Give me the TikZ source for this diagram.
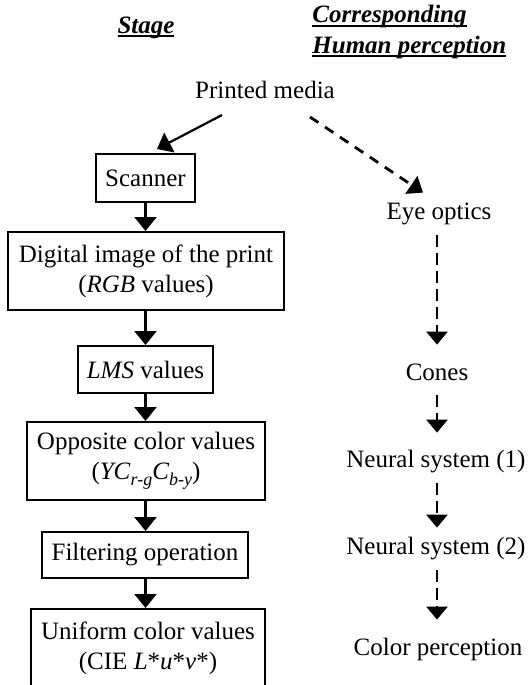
\documentclass[tikz,border=0pt]{standalone}
\usepackage{fontspec}
\setmainfont{Liberation Serif}
\usetikzlibrary{arrows.meta}
\newcommand\myul[1]{\setbox0=\hbox{#1}\rlap{\rule[-2pt]{\wd0}{0.8pt}}\box0}
\newcommand\mysub[1]{\raisebox{-3pt}{\fontsize{9}{9}\selectfont\itshape #1}}
\begin{document}
\begin{tikzpicture}[x=0.5pt,y=-0.5pt,
  font=\fontsize{12.5}{15}\selectfont,
  stagebox/.style={draw,line width=1pt,inner sep=0pt,align=center},
  lbl/.style={inner sep=0pt,text height=8.5pt,text depth=2.5pt},
  hdr/.style={inner sep=0pt,font=\fontsize{12.5}{15}\selectfont\bfseries\itshape},
  solidarr/.style={line width=1.1pt,-{Triangle[width=11pt,length=7pt]}},
  dasharr/.style={line width=1.4pt,dash pattern=on 6pt off 3pt,-{Triangle[width=10.5pt,length=6.5pt]}},
  diagdash/.style={line width=1.4pt,dash pattern=on 5pt off 4pt,-{Triangle[width=10.5pt,length=7pt]}}]
\useasboundingbox (0,0) rectangle (528,685);
\clip (0,0) rectangle (528,685);
% headers
\node[hdr,anchor=base] (hstage) at (146,33) {\myul{Stage}};
\node[hdr,anchor=base west] (hcorr) at (312,23) {\myul{Corresponding}};
\node[hdr,anchor=base west] (hhum) at (312,53) {\myul{Human perception}};
% top
\node[lbl,anchor=base] (pm) at (265,98) {Printed media};
% left column
\node[stagebox,minimum width=49.5pt,minimum height=24pt] (scan) at (145.5,178) {Scanner};
\node[stagebox,minimum width=138pt,minimum height=39pt] (dig) at (146,271) {Digital image of the print\\(\textit{RGB} values)};
\node[stagebox,minimum width=67.5pt,minimum height=23.5pt] (lms) at (145.5,369.5) {\textit{LMS} values};
\node[stagebox,minimum width=119pt,minimum height=39pt] (opp) at (146,461) {Opposite color values\\(\textit{YC}\mysub{r-g}\textit{C}\mysub{b-y})};
\node[stagebox,minimum width=103pt,minimum height=23pt] (filt) at (145,555) {Filtering operation};
\node[stagebox,minimum width=117pt,minimum height=39pt] (uni) at (148,648) {Uniform color values\\(CIE \textit{L}*\textit{u}*\textit{v}*)};
% right column
\node[lbl,anchor=base] (eye) at (439,219) {Eye optics};
\node[lbl,anchor=base] (cones) at (437,380) {Cones};
\node[lbl,anchor=base] (ns1) at (436,467) {Neural system (1)};
\node[lbl,anchor=base] (ns2) at (436,554) {Neural system (2)};
\node[lbl,anchor=base] (cp) at (438,655) {Color perception};
% connectors
\draw[solidarr] ([shift={(-43,17)}]pm.base) -- ([shift={(11.5,-4)}]scan.north);
\draw[diagdash] ([shift={(45,19)}]pm.base) -- ([shift={(-16,-9)}]eye.north);
\draw[solidarr] (scan.south) -- (dig.north -| scan.south);
\draw[solidarr] (dig.south -| scan.south) -- (lms.north -| scan.south);
\draw[solidarr] (lms.south -| scan.south) -- (opp.north -| scan.south);
\draw[solidarr] (opp.south -| scan.south) -- (filt.north -| scan.south);
\draw[solidarr] (filt.south -| scan.south) -- (uni.north -| scan.south);
\draw[dasharr,shorten <=5.5pt,shorten >=9pt] (eye.south -| cones.south) -- (cones.north);
\draw[dasharr,shorten <=5pt,shorten >=8.5pt] (cones.south) -- (ns1.north -| cones.south);
\draw[dasharr,shorten <=5.5pt,shorten >=4.5pt] (ns1.south -| cones.south) -- (ns2.north -| cones.south);
\draw[dasharr,shorten <=5.5pt,shorten >=9pt] (ns2.south -| cones.south) -- (cp.north -| cones.south);
\end{tikzpicture}
\end{document}
